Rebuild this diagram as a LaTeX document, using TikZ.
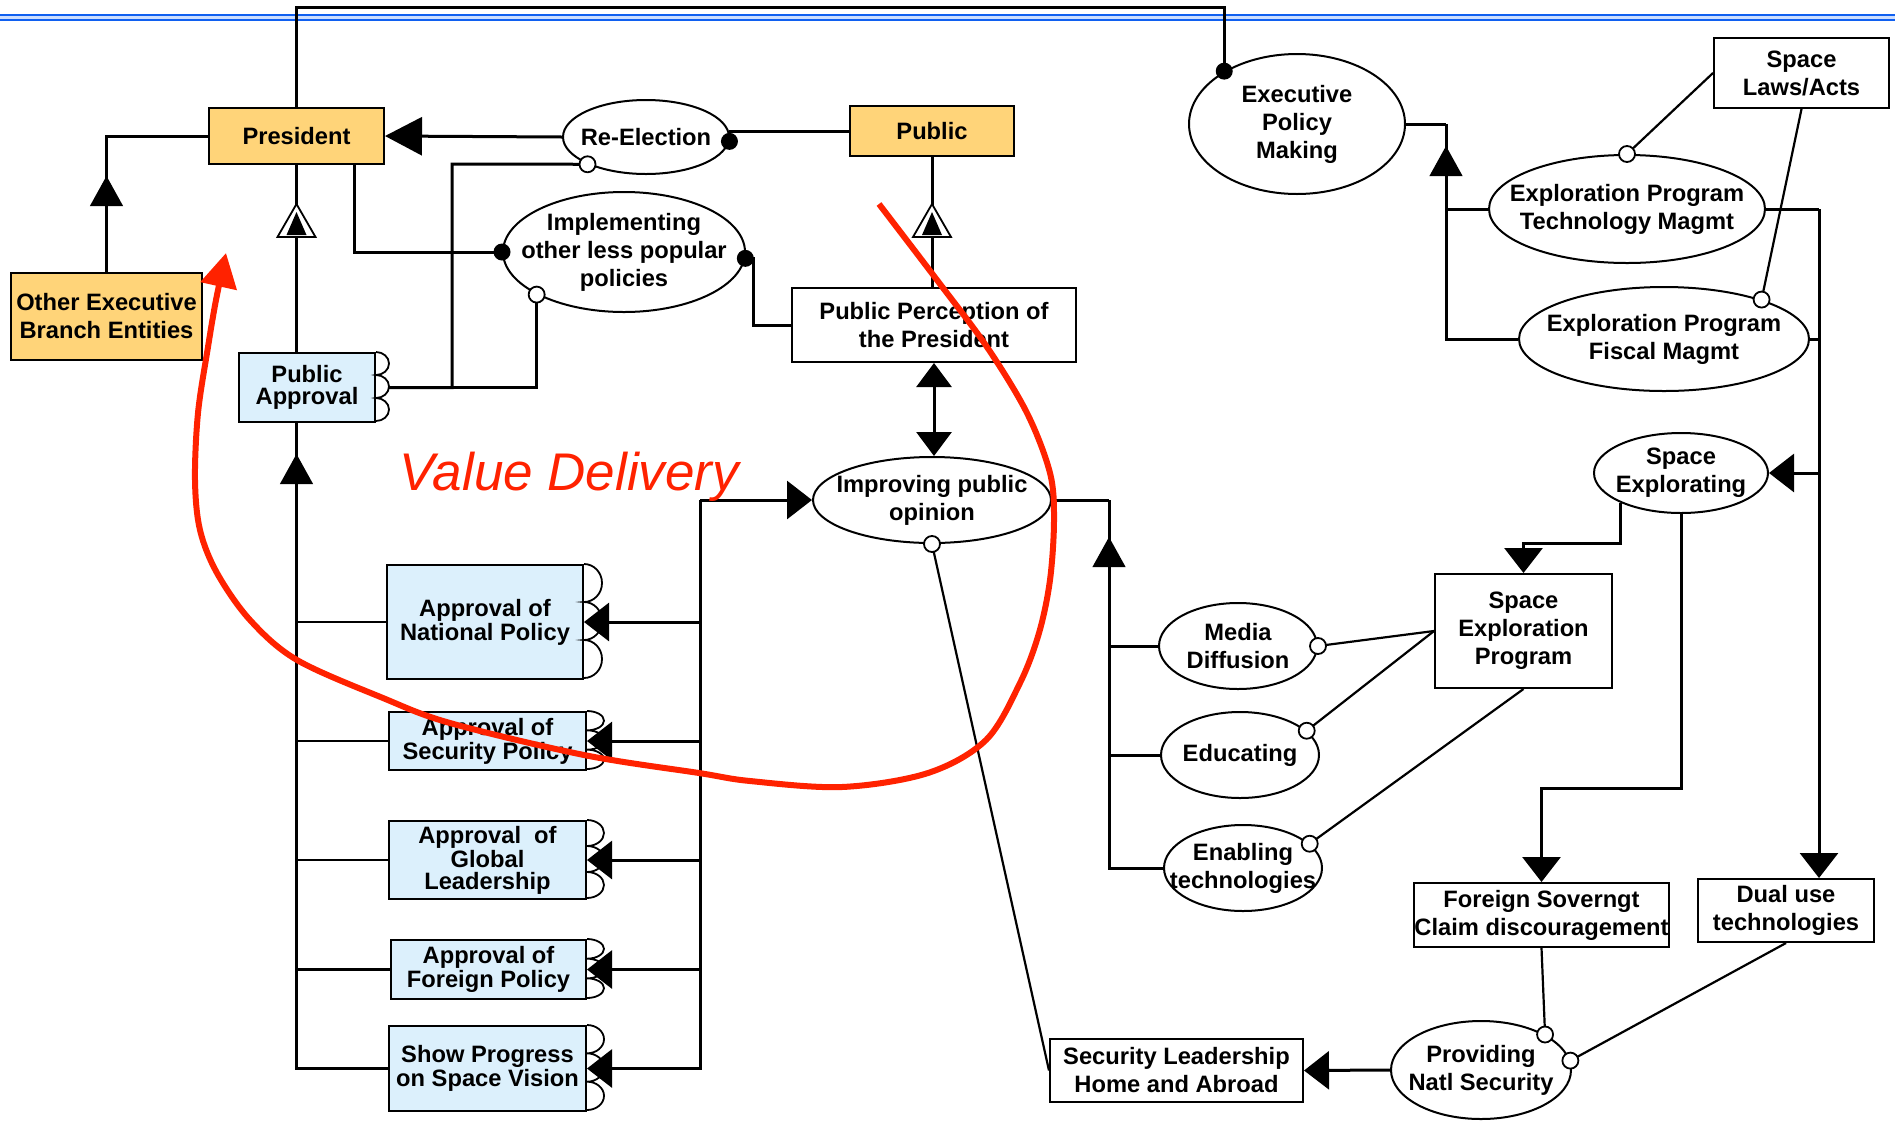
\documentclass[tikz,border=0pt]{standalone}
\usepackage{fontspec}
\setmainfont{Liberation Sans}
\usetikzlibrary{shapes.geometric,arrows.meta,decorations.markings}
\definecolor{ofill}{RGB}{255,212,121}
\definecolor{bfill}{RGB}{220,240,252}
\definecolor{vred}{RGB}{255,34,0}
\definecolor{hblue}{RGB}{16,96,240}
\definecolor{hlight}{RGB}{205,222,255}
\tikzset{
  lbl/.style={font=\fontsize{11.85}{14}\selectfont\bfseries, align=center, inner sep=0pt},
  albl/.style={font=\fontsize{11.85}{11}\selectfont\bfseries, align=center, inner sep=0pt},
  boxn/.style={draw, line width=1pt, rectangle, inner sep=0pt},
  ovl/.style={draw, line width=1pt, ellipse, inner sep=0pt, fill=white},
  conn/.style={line width=1.5pt},
  thinc/.style={line width=1.1pt},
  tipS/.style={-{Triangle[length=12.5pt,width=19pt]}},
  tipB/.style={-{Triangle[length=18.5pt,width=19pt]}},
  bdot/.style={circle, fill=black, inner sep=0pt, minimum size=8.5pt},
  wdot/.style={circle, draw, fill=white, line width=0.9pt, inner sep=0pt, minimum size=8pt},
  midtri/.style={postaction={decorate}, decoration={markings, mark=at position #1 with {\fill (0pt,0pt) -- (-15pt,8.3pt) -- (-15pt,-8.3pt) -- cycle;}}},
  opentri/.style={postaction={decorate}, decoration={markings, mark=at position #1 with {\draw[line width=0.9pt, fill=white] (0pt,0pt) -- (-16.5pt,9.5pt) -- (-16.5pt,-9.5pt) -- cycle; \fill (-4pt,0pt) -- (-15.5pt,5pt) -- (-15.5pt,-5pt) -- cycle;}}},
}
\newcommand{\bumpsR}[3]{\draw[line width=0.9pt] (#1.north east) arc[start angle=90,end angle=-90,x radius=#2,y radius=#3] arc[start angle=90,end angle=-90,x radius=#2,y radius=#3] arc[start angle=90,end angle=-90,x radius=#2,y radius=#3];}
\begin{document}
\begin{tikzpicture}[x=0.5pt,y=-0.5pt]
\useasboundingbox[fill=white] (0,0) rectangle (1895,1120);
% header rule
\fill[hlight] (0,15) rectangle (1895,20);
\draw[hblue, line width=1.1pt] (0,15) -- (1895,15);
\draw[hblue, line width=1.1pt] (0,20) -- (1895,20);

% ---------- nodes ----------
\node[boxn, fill=ofill, minimum width=87.5pt, minimum height=28pt, lbl] (pres) at (296.5,136) {President};
\node[boxn, fill=ofill, minimum width=95.5pt, minimum height=43.5pt, lbl] (oe) at (106.5,316.5) {Other Executive\\Branch Entities};
\node[boxn, fill=bfill, minimum width=68pt, minimum height=34.5pt, albl] (pa) at (307,387.5) {Public\\Approval};
\node[boxn, fill=ofill, minimum width=82pt, minimum height=25pt, lbl] (pub) at (932,131) {Public};
\node[boxn, fill=white, minimum width=142pt, minimum height=37pt, lbl] (ppp) at (934,325) {Public Perception of\\the President};

\node[boxn, fill=bfill, minimum width=98pt, minimum height=57pt, albl] (anp) at (485,622) {Approval of\\National Policy};
\node[boxn, fill=bfill, minimum width=98.5pt, minimum height=29pt, albl] (asp) at (487.5,741) {Approval of\\Security Policy};
\node[boxn, fill=bfill, minimum width=98.5pt, minimum height=39pt, albl] (agl) at (487.5,860) {Approval~ of\\Global\\Leadership};
\node[boxn, fill=bfill, minimum width=97.5pt, minimum height=29.5pt, albl] (afp) at (488.5,969.5) {Approval of\\Foreign Policy};
\node[boxn, fill=bfill, minimum width=98.5pt, minimum height=42.5pt, albl] (ssv) at (487.5,1068.5) {Show Progress\\on Space Vision};

\node[boxn, fill=white, minimum width=87.5pt, minimum height=35pt, lbl] (sla) at (1801.5,73) {Space\\Laws/Acts};
\node[boxn, fill=white, minimum width=88.5pt, minimum height=57pt, lbl] (sep) at (1523.5,631) {Space\\Exploration\\Program};
\node[boxn, fill=white, minimum width=126.5pt, minimum height=32pt, lbl] (fs) at (1541.5,915) {Foreign Soverngt\\Claim discouragement};
\node[boxn, fill=white, minimum width=88pt, minimum height=31.5pt, lbl] (du) at (1786,910.5) {Dual use\\technologies};
\node[boxn, fill=white, minimum width=126.5pt, minimum height=31.5pt, lbl] (sl) at (1176.5,1070.5) {Security Leadership\\Home and Abroad};

\node[ovl, minimum width=83pt, minimum height=37pt] (re) at (646,137) {};
\node[lbl] (re-t) at (re) {Re-Election};
\node[ovl, minimum width=121pt, minimum height=60pt] (imp) at (624,252) {};
\node[lbl] (imp-t) at (imp) {Implementing\\other less popular\\policies};
\node[ovl, minimum width=119pt, minimum height=43pt] (ipo) at (932,500) {};
\node[lbl] (ipo-t) at (ipo) {Improving public\\opinion};
\node[ovl, minimum width=108pt, minimum height=70pt] (exec) at (1297,124) {};
\node[lbl] (exec-t) at (exec) {Executive\\Policy\\Making};
\node[ovl, minimum width=138pt, minimum height=54pt] (tech) at (1627,209) {};
\node[lbl] (tech-t) at (tech) {Exploration Program\\Technology Magmt};
\node[ovl, minimum width=145pt, minimum height=52pt] (fis) at (1664,339) {};
\node[lbl] (fis-t) at (fis) {Exploration Program\\Fiscal Magmt};
\node[ovl, minimum width=87pt, minimum height=40pt] (se) at (1681,473) {};
\node[lbl] (se-t) at (se) {Space\\Explorating};
\node[ovl, minimum width=79pt, minimum height=43pt] (md) at (1238,646) {};
\node[lbl] (md-t) at (md) {Media\\Diffusion};
\node[ovl, minimum width=79pt, minimum height=43pt] (edu) at (1240,755) {};
\node[lbl] (edu-t) at (edu) {Educating};
\node[ovl, minimum width=79pt, minimum height=43pt] (en) at (1243,868) {};
\node[lbl] (en-t) at (en) {Enabling\\technologies};
\node[ovl, minimum width=90pt, minimum height=49pt] (pns) at (1481,1070) {};
\node[lbl] (pns-t) at (pns) {Providing\\Natl Security};

% bumps on approval boxes
\bumpsR{pa}{6.5pt}{5.75pt}
\bumpsR{anp}{9pt}{9.5pt}
\bumpsR{asp}{8.5pt}{4.833pt}
\bumpsR{agl}{8.5pt}{6.5pt}
\bumpsR{afp}{8.5pt}{4.917pt}
\bumpsR{ssv}{8.5pt}{7.083pt}

% ---------- connectors ----------
\coordinate (tl) at (296.5,7);
\draw[conn] (pres.north) -- (tl) -| (exec.144);
\draw[conn, midtri=48pt] (oe.north) |- (pres.west);
\draw[conn, tipB] (re.west) -- (pres.east);
\draw[conn] (pub.west) -- (pub.west -| re.-3);
\draw[conn] ([xshift=29pt]pres.south) |- (imp.west);
\draw[conn] (imp.-3) -| ([xshift=-19pt]ppp.west) -- (ppp.west);
\coordinate (kA) at (452,164);
\draw[conn] ([xshift=6.5pt]pa.east) -| (kA) -- (re.205);
\draw[conn] ([xshift=6.5pt]pa.east) -| (imp.206);
\draw[conn, opentri=74pt] (pa.north -| pres.south) -- (pres.south);
\draw[conn, opentri=41.5pt] (ppp.north -| pub.south) -- (pub.south);
\draw[conn, {Triangle[length=12pt,width=17.5pt]}-{Triangle[length=12pt,width=17.5pt]}] (ppp.south) -- (ppp.south |- ipo.north);

% left trunk (approvals -> public approval)
\coordinate (lb) at (pres.south |- pa.south);
\draw[thinc] (anp.west) -| (lb);
\draw[thinc] (asp.west) -| (lb);
\draw[thinc] (agl.west) -| (lb);
\draw[thinc] (afp.west) -| (lb);
\draw[conn, midtri=353pt] (ssv.west) -| (lb);

% value delivery trunk
\coordinate (vd) at (700,500);
\draw[conn, tipS] (vd) -- (ipo.west);
\draw[conn, tipS] (vd) |- (anp.east);
\draw[conn, tipS] (vd) |- (asp.east);
\draw[conn, tipS] (vd) |- (agl.east);
\draw[conn, tipS] (vd) |- (afp.east);
\draw[conn, tipS] (vd) |- (ssv.east);

% improving public opinion trunk
\coordinate (t2) at (1109,500);
\draw[conn] (ipo.east) -- (t2);
\draw[conn, midtri=192.5pt] (en.west) -| (t2);
\draw[conn] (md.west) -| (t2);
\draw[conn] (edu.west) -| (t2);
\draw[thinc] (md.east) -- (sep.west);
\draw[thinc] (edu.20) -- (sep.west);
\draw[thinc] (en.20) -- (sep.south);
\draw[thinc] (ipo.south) -- (sl.west);

% executive policy trunk
\coordinate (t3) at (1446,124);
\draw[conn] (exec.east) -- (t3);
\draw[conn, midtri=132.5pt] (fis.west) -| (t3);
\draw[conn] (tech.west) -- (tech.west -| t3);
\draw[thinc] (sla.west) -- (tech.north);
\draw[thinc] (sla.south) -- (fis.22);

% right trunk
\coordinate (t4) at (1819,209);
\draw[conn] (tech.east) -- (t4);
\draw[conn, tipS] (t4) -- (t4 |- du.north);
\draw[conn] (fis.east) -- (fis.east -| t4);
\draw[conn, tipS] (se.east -| t4) -- (se.east);
\draw[conn, tipS] (se.206) -- ++(0,41) -| (sep.north);
\draw[conn, tipS] (se.south) -- ++(0,274) -| (fs.north);
\draw[thinc] (fs.south) -- (pns.29);
\draw[thinc] (du.south) -- (pns.6);
\draw[conn, tipS] (pns.west) -- (sl.east);

% ---------- dots ----------
\node[bdot] (d1) at (re.-3) {};
\node[bdot] (d2) at (imp.west) {};
\node[bdot] (d3) at (imp.-3) {};
\node[bdot] (d4) at (exec.144) {};
\node[wdot] (w1) at (re.205) {};
\node[wdot] (w2) at (imp.206) {};
\node[wdot] (w3) at (ipo.south) {};
\node[wdot] (w4) at (tech.north) {};
\node[wdot] (w5) at (fis.22) {};
\node[wdot] (w6) at (md.east) {};
\node[wdot] (w7) at (edu.20) {};
\node[wdot] (w8) at (en.20) {};
\node[wdot] (w9) at (pns.29) {};
\node[wdot] (w10) at (pns.6) {};

% ---------- value delivery annotation ----------
\node[font=\fontsize{26.5}{30}\selectfont\itshape, text=vred, anchor=base west, inner sep=0pt] (vdt) at (399,490) {Value Delivery};
\draw[vred, line width=3pt, -{Triangle[length=17pt,width=18pt]}] plot[smooth, tension=0.55] coordinates {(879,204) (937,280) (987,347) (1027,413) (1050,473) (1054,520) (1050,580) (1039,633) (1020,683) (986,740) (928,773) (842,787) (750,781) (699,773) (584,755) (450,723) (383,698) (297,660) (250,620) (217,573) (200,530) (195,480) (198,413) (208,347) (216,300) (226,253)};
\end{tikzpicture}
\end{document}
